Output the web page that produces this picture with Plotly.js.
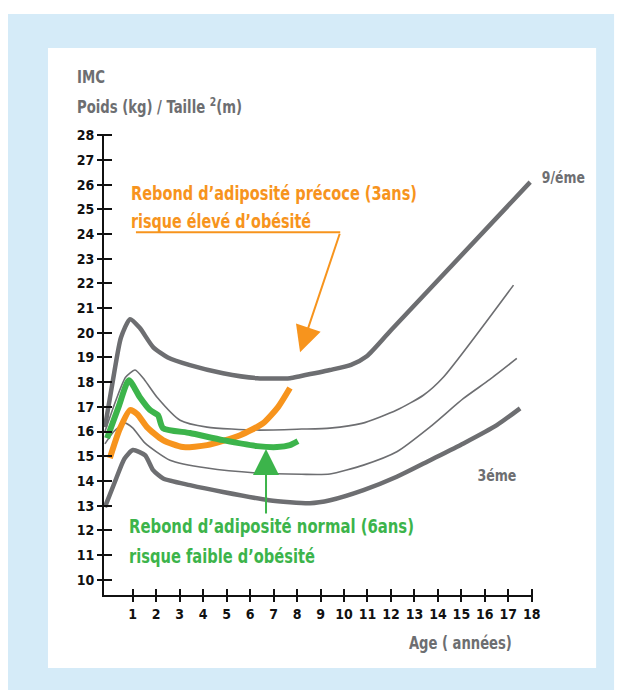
<!DOCTYPE html>
<html>
<head>
<meta charset="utf-8">
<script src="https://cdn.plot.ly/plotly-3.0.1.min.js"></script>
<style>html,body{margin:0;padding:0;background:#fff;}#chart{width:630px;height:697px;}</style>
</head>
<body>
<div id="chart"></div>
<script>
// ---- Data ----
const ageP97 = [-0.18, 0.2, 0.5, 0.89, 1.3, 1.87, 2.5, 3.44, 4.85, 6.3, 7.7, 8.13, 9.4, 10.3, 10.97, 12, 17.93];
const imcP97 = [16.18, 18.3, 19.8, 20.55, 20.2, 19.42, 19.0, 18.69, 18.36, 18.16, 18.16, 18.24, 18.49, 18.7, 19.05, 20.1, 26.1];

const ageP75 = [-0.18, 0.3, 0.7, 1.1, 1.5, 2.04, 3.02, 4.17, 6.3, 8.2, 9.4, 10.76, 12.25, 13.38, 14.24, 17.22];
const imcP75 = [16.0, 17.3, 18.2, 18.49, 18.1, 17.39, 16.46, 16.18, 16.06, 16.1, 16.14, 16.33, 16.87, 17.47, 18.21, 21.93];

const ageP25 = [-0.18, 0.2, 0.67, 1.0, 1.53, 2.59, 4.17, 6.3, 8.2, 9.4, 10.83, 12.25, 13.67, 15.09, 16.2, 17.36];
const imcP25 = [15.5, 16.0, 16.34, 16.15, 15.53, 14.84, 14.52, 14.32, 14.27, 14.28, 14.64, 15.18, 16.19, 17.34, 18.1, 18.96];

const ageP3 = [-0.18, 0.3, 0.65, 1.01, 1.53, 1.87, 2.3, 3.44, 4.85, 6.8, 8.55, 9.41, 10.83, 12.25, 13.67, 15.09, 16.51, 17.5];
const imcP3 = [12.94, 14.1, 14.9, 15.25, 15.04, 14.44, 14.1, 13.83, 13.55, 13.22, 13.1, 13.22, 13.63, 14.17, 14.84, 15.52, 16.26, 16.94];

const ageNormal = [-0.09, 0.4, 0.84, 1.3, 1.74, 2.08, 2.29, 3.44, 4.85, 6.3, 7.15, 7.7, 8.04];
const imcNormal = [15.73, 17.0, 18.08, 17.4, 16.87, 16.66, 16.14, 15.94, 15.65, 15.41, 15.37, 15.45, 15.61];

const agePrecoce = [0.03, 0.45, 0.89, 1.2, 1.61, 2.29, 3.14, 4.17, 5.58, 6.56, 7.2, 7.7];
const imcPrecoce = [14.92, 16.1, 16.87, 16.7, 16.18, 15.65, 15.37, 15.45, 15.85, 16.34, 17.0, 17.76];

const xTicks = [1,2,3,4,5,6,7,8,9,10,11,12,13,14,15,16,17,18];
const yTicks = [10,11,12,13,14,15,16,17,18,19,20,21,22,23,24,25,26,27,28];

const labelTop = '9/éme';
const labelBottom = '3éme';
const txtPrecoce1 = 'Rebond d’adiposité précoce (3ans)';
const txtPrecoce2 = 'risque élevé d’obésité';
const txtNormal1 = 'Rebond d’adiposité normal (6ans)';
const txtNormal2 = 'risque faible d’obésité';

// ---- Styles ----
const GRAY = '#6d6e71', ORANGE = '#f7941d', GREEN = '#3cb44b', BLUE = '#d5ebf8';
const FONT = '"DejaVu Sans Condensed", "Liberation Sans Narrow", sans-serif';

function line(x, y, color, width) {
  return {x: x, y: y, type: 'scatter', mode: 'lines', hoverinfo: 'skip',
    line: {color: color, width: width, shape: 'spline', smoothing: 0.6}, cliponaxis: false};
}

const traces = [
  line(ageP97, imcP97, GRAY, 4.5),
  line(ageP75, imcP75, GRAY, 1.6),
  line(ageP25, imcP25, GRAY, 1.6),
  line(ageP3, imcP3, GRAY, 4.5),
  line(agePrecoce, imcPrecoce, ORANGE, 6),
  line(ageNormal, imcNormal, GREEN, 6),
  {x: [0], y: [20], xaxis: 'x2', yaxis: 'y2', mode: 'markers', marker: {opacity: 0}, hoverinfo: 'skip', showlegend: false}
];

const xRange = [-0.22, 18.05], yRange = [9.38, 28.05];
const tickFont = {family: FONT, size: 14, color: '#111', weight: 'bold'};

// desired rendered widths (px) of each annotation text, for the condensed look of the reference
const textWidths = [28, 165, 103, 43, 39, 286, 180, 285, 186];

const layout = {
  width: 630, height: 697,
  margin: {l: 104, r: 97, t: 134, b: 102},
  paper_bgcolor: '#ffffff', plot_bgcolor: '#ffffff',
  showlegend: false,
  xaxis: {range: xRange, tickvals: xTicks, ticktext: xTicks.map(String), ticks: 'outside', ticklen: 5, tickwidth: 2,
    tickcolor: '#111', showline: true, linecolor: '#111', linewidth: 2, showgrid: false, zeroline: false,
    tickfont: tickFont, fixedrange: true},
  yaxis: {range: yRange, tickvals: yTicks, ticktext: yTicks.map(String), ticks: 'outside', ticklen: 5, tickwidth: 2,
    tickcolor: '#111', showline: true, linecolor: '#111', linewidth: 2, showgrid: false, zeroline: false,
    tickfont: tickFont, fixedrange: true},
  xaxis2: {range: xRange, overlaying: 'x', tickvals: xTicks, ticks: 'inside', ticklen: 6, tickwidth: 2, tickcolor: '#111',
    showticklabels: false, showline: false, showgrid: false, zeroline: false, side: 'bottom'},
  yaxis2: {range: yRange, overlaying: 'y', tickvals: yTicks, ticks: 'inside', ticklen: 8, tickwidth: 2, tickcolor: '#111',
    showticklabels: false, showline: false, showgrid: false, zeroline: false, side: 'left'},
  shapes: [
    {type: 'rect', xref: 'paper', yref: 'paper', x0: -0.2238, x1: 1.189, y0: -0.206, y1: 1.2603,
      fillcolor: BLUE, line: {width: 0}, layer: 'below'},
    {type: 'rect', xref: 'paper', yref: 'paper', x0: -0.1306, x1: 1.1471, y0: -0.1584, y1: 1.1866,
      fillcolor: '#ffffff', line: {width: 0}, layer: 'below'},
    {type: 'line', xref: 'x', yref: 'y', x0: 1.14, x1: 9.84, y0: 24.07, y1: 24.07,
      line: {color: ORANGE, width: 2}}
  ],
  annotations: [
    {xref: 'paper', yref: 'paper', x: -0.0676, y: 1.1236, xanchor: 'left', yanchor: 'middle', showarrow: false,
      text: '<b>IMC</b>', font: {family: FONT, size: 17, color: GRAY}},
    {xref: 'paper', yref: 'paper', x: -0.0676, y: 1.0607, xanchor: 'left', yanchor: 'middle', showarrow: false,
      text: '<b>Poids (kg) / Taille <sup>2</sup>(m)</b>', font: {family: FONT, size: 17, color: GRAY}},
    {xref: 'paper', yref: 'paper', x: 0.830, y: -0.102, xanchor: 'center', yanchor: 'middle', showarrow: false,
      text: '<b>Age ( années)</b>', font: {family: FONT, size: 18, color: GRAY}},
    {xref: 'paper', yref: 'paper', x: 1.070, y: 0.9046, xanchor: 'center', yanchor: 'middle', showarrow: false,
      text: '<b>' + labelTop + '</b>', font: {family: FONT, size: 15, color: GRAY}},
    {xref: 'x', yref: 'y', x: 16.52, y: 14.19, xanchor: 'center', yanchor: 'middle', showarrow: false,
      text: '<b>' + labelBottom + '</b>', font: {family: FONT, size: 15, color: GRAY}},
    {xref: 'x', yref: 'y', x: 0.84, y: 25.65, xanchor: 'left', yanchor: 'middle', showarrow: false,
      text: '<b>' + txtPrecoce1 + '</b>', font: {family: FONT, size: 20, color: ORANGE}},
    {xref: 'x', yref: 'y', x: 0.84, y: 24.52, xanchor: 'left', yanchor: 'middle', showarrow: false,
      text: '<b>' + txtPrecoce2 + '</b>', font: {family: FONT, size: 20, color: ORANGE}},
    {xref: 'x', yref: 'y', x: 0.76, y: 12.17, xanchor: 'left', yanchor: 'middle', showarrow: false,
      text: '<b>' + txtNormal1 + '</b>', font: {family: FONT, size: 20, color: GREEN}},
    {xref: 'x', yref: 'y', x: 0.76, y: 10.96, xanchor: 'left', yanchor: 'middle', showarrow: false,
      text: '<b>' + txtNormal2 + '</b>', font: {family: FONT, size: 20, color: GREEN}},
    {xref: 'x', yref: 'y', axref: 'x', ayref: 'y', x: 8.13, y: 19.21, ax: 9.84, ay: 24.07, text: '',
      showarrow: true, arrowhead: 2, arrowsize: 2.6, arrowwidth: 2, arrowcolor: ORANGE, standoff: 0, startstandoff: 0},
    {xref: 'x', yref: 'y', axref: 'x', ayref: 'y', x: 6.68, y: 15.29, ax: 6.68, ay: 12.62, text: '',
      showarrow: true, arrowhead: 2, arrowsize: 2.6, arrowwidth: 2, arrowcolor: GREEN, standoff: 0, startstandoff: 0}
  ]
};

Plotly.newPlot('chart', traces, layout, {staticPlot: true, displayModeBar: false}).then(function (gd) {
  const groups = gd.querySelectorAll('g.annotation');
  groups.forEach(function (g) {
    const idx = +g.getAttribute('data-index');
    const w = textWidths[idx];
    if (!w) return;
    const t = g.querySelector('text.annotation-text');
    if (!t) return;
    const natural = t.getComputedTextLength();
    const leftAnchored = layout.annotations[idx].xanchor === 'left';
    if (leftAnchored) {
      const x0 = parseFloat(t.getAttribute('x')) || 0;
      t.setAttribute('x', x0 - natural / 2 + w / 2);
    }
    t.setAttribute('textLength', w);
    t.setAttribute('lengthAdjust', 'spacingAndGlyphs');
  });
});
</script>
</body>
</html>
